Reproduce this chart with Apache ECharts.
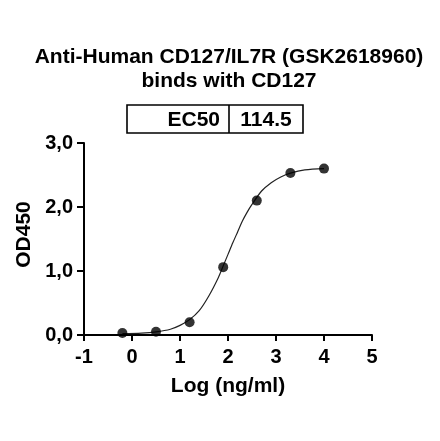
<!DOCTYPE html>
<html>
<head>
<meta charset="utf-8">
<script src="https://cdn.jsdelivr.net/npm/echarts@6/dist/echarts.min.js"></script>
<style>
  html, body { margin: 0; padding: 0; background: #fff; }
  #chart { width: 440px; height: 441px; }
</style>
</head>
<body>
<div id="chart"></div>
<script>
// measured points (log ng/ml vs OD450)
const logConc = [-0.2, 0.5, 1.2, 1.9, 2.6, 3.3, 4.0];
const od450 = [0.03, 0.05, 0.2, 1.06, 2.1, 2.53, 2.6];

// fitted curve
const curveX = [-0.2, 0.2, 0.5, 0.8, 1.0, 1.2, 1.4, 1.6, 1.8, 1.9, 2.0, 2.1, 2.2, 2.3, 2.4, 2.5, 2.7, 2.9, 3.1, 3.3, 3.6, 4.0];
const curveY = [0.02, 0.03, 0.05, 0.09, 0.15, 0.24, 0.38, 0.61, 0.9, 1.08, 1.26, 1.44, 1.61, 1.78, 1.92, 2.04, 2.25, 2.38, 2.47, 2.53, 2.58, 2.6];

const titleLines = ['Anti-Human CD127/IL7R (GSK2618960)', 'binds with CD127'];
const ec50Label = 'EC50';
const ec50Value = '114.5';

const font = '"Liberation Sans", Arial, sans-serif';

const chart = echarts.init(document.getElementById('chart'));

const option = {
    animation: false,
    title: {
        text: titleLines.join('\n'),
        left: 224,
        textAlign: 'center',
        top: 40,
        textStyle: {
            fontFamily: font,
            fontWeight: 'bold',
            fontSize: 21,
            lineHeight: 24,
            color: '#000'
        }
    },
    grid: {
        left: 84,
        right: 68,
        top: 143,
        bottom: 106
    },
    xAxis: {
        type: 'value',
        min: -1,
        max: 5,
        interval: 1,
        name: 'Log (ng/ml)',
        nameLocation: 'middle',
        nameGap: 41,
        nameTextStyle: { fontFamily: font, fontWeight: 'bold', fontSize: 21, color: '#000' },
        axisLine: { onZero: false, lineStyle: { color: '#000', width: 2 } },
        axisTick: { show: true, length: 6, lineStyle: { color: '#000', width: 2 } },
        axisLabel: { fontFamily: font, fontWeight: 'bold', fontSize: 20, color: '#000', margin: 12 },
        splitLine: { show: false }
    },
    yAxis: {
        type: 'value',
        min: 0,
        max: 3,
        interval: 1,
        name: 'OD450',
        nameLocation: 'middle',
        nameGap: 48,
        nameTextStyle: { fontFamily: font, fontWeight: 'bold', fontSize: 21, color: '#000', padding: [0, 0, 0, 9] },
        axisLine: { show: true, onZero: false, lineStyle: { color: '#000', width: 2 } },
        axisTick: { show: true, length: 7, lineStyle: { color: '#000', width: 2 } },
        axisLabel: {
            fontFamily: font, fontWeight: 'bold', fontSize: 20, color: '#000', margin: 11,
            formatter: v => v.toFixed(1).replace('.', ',')
        },
        splitLine: { show: false }
    },
    graphic: [
        {
            type: 'rect',
            shape: { x: 127, y: 105, width: 176, height: 28 },
            style: { fill: '#fff', stroke: '#000', lineWidth: 1.6 }
        },
        {
            type: 'line',
            shape: { x1: 229, y1: 105, x2: 229, y2: 133 },
            style: { stroke: '#000', lineWidth: 1.6 }
        },
        {
            type: 'text',
            x: 220, y: 120,
            style: { text: ec50Label, font: 'bold 21px ' + font, fill: '#000', align: 'right', verticalAlign: 'middle' }
        },
        {
            type: 'text',
            x: 266, y: 120,
            style: { text: ec50Value, font: 'bold 21px ' + font, fill: '#000', align: 'center', verticalAlign: 'middle' }
        }
    ],
    series: [
        {
            name: 'fit',
            type: 'line',
            data: curveX.map((x, i) => [x, curveY[i]]),
            smooth: 0.3,
            showSymbol: false,
            lineStyle: { color: '#222', width: 1.2 },
            z: 2
        },
        {
            name: 'data',
            type: 'scatter',
            data: logConc.map((x, i) => [x, od450[i]]),
            symbolSize: 10,
            itemStyle: { color: '#000' },
            z: 3
        }
    ]
};

chart.setOption(option);
</script>
</body>
</html>
